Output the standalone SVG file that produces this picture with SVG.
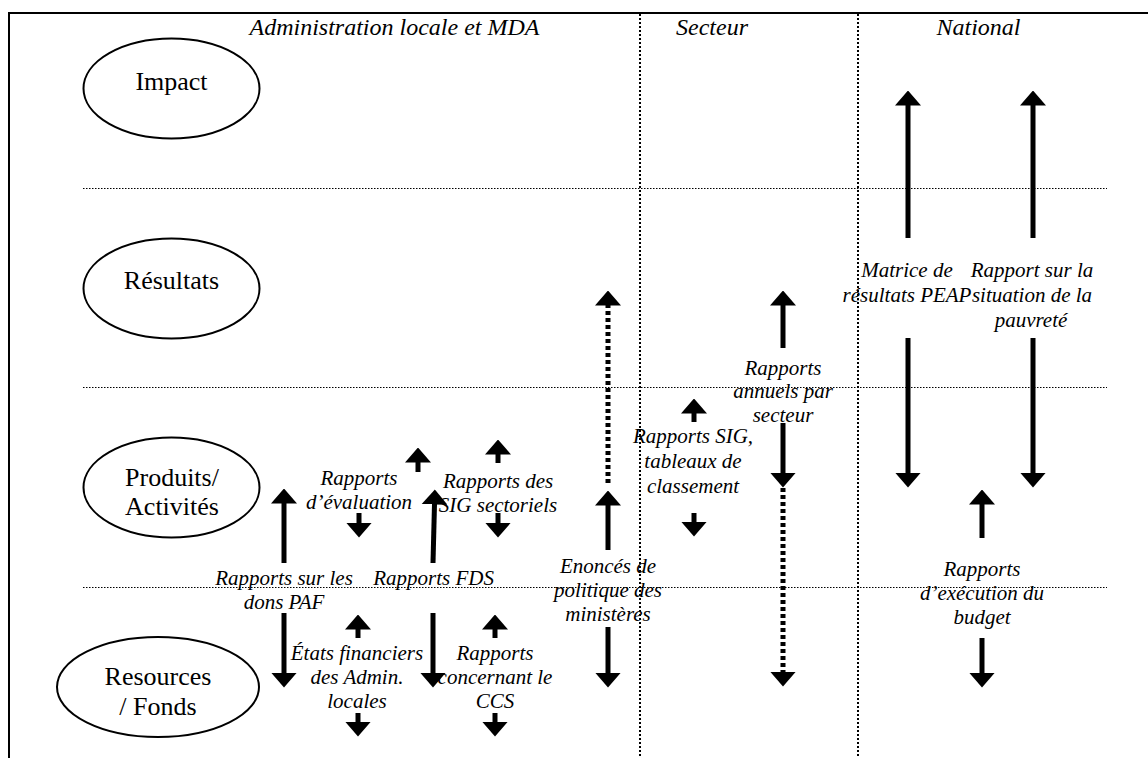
<svg xmlns="http://www.w3.org/2000/svg" width="1148" height="758" viewBox="0 0 1148 758">
<defs>
<style>
.frame{stroke:#000;stroke-width:2;fill:none}
.grid{stroke:#000;stroke-width:1.2;stroke-dasharray:1.5 1.5;fill:none}
.vgrid{stroke:#000;stroke-width:2;stroke-dasharray:2 2;fill:none}
.ell{fill:#fff;stroke:#000;stroke-width:2}
.lvl{font-family:"Liberation Serif","Times New Roman",serif;font-size:26px;fill:#000;text-anchor:middle}
.hdr{font-family:"Liberation Serif","Times New Roman",serif;font-size:24px;font-style:italic;fill:#000;text-anchor:middle}
.lbl{font-family:"Liberation Serif","Times New Roman",serif;font-size:21px;font-style:italic;fill:#000;text-anchor:middle}
.arr{stroke:#000;stroke-width:5;fill:none;marker-end:url(#head)}
.dot{stroke-dasharray:4 3}
</style>
<marker id="head" viewBox="0 -13 15 26" markerWidth="15" markerHeight="26" refX="0.5" refY="0" orient="auto" markerUnits="userSpaceOnUse">
<path d="M0,-13 L15,0 L0,13 Z" fill="#000"/>
</marker>
</defs>
<rect width="1148" height="758" fill="#fff"/>
<g id="frame">
<line class="frame" x1="8" y1="13" x2="1148" y2="13"/>
<line class="frame" x1="9" y1="12" x2="9" y2="758"/>
</g>
<g id="gridlines">
<line class="vgrid" x1="640" y1="14" x2="640" y2="758"/>
<line class="vgrid" x1="858" y1="14" x2="858" y2="758"/>
<line class="grid" x1="83" y1="188.5" x2="1107" y2="188.5"/>
<line class="grid" x1="83" y1="387.5" x2="1107" y2="387.5"/>
<line class="grid" x1="83" y1="587.5" x2="1107" y2="587.5"/>
</g>
<g id="headers">
<text class="hdr" x="394.5" y="35">Administration locale et MDA</text>
<text class="hdr" x="712" y="35">Secteur</text>
<text class="hdr" x="978.5" y="35">National</text>
</g>
<g id="impact"><ellipse class="ell" cx="171.5" cy="88.5" rx="88" ry="50"/><text class="lvl" x="171.5" y="90">Impact</text></g>
<g id="resultats"><ellipse class="ell" cx="171.5" cy="288.5" rx="88" ry="50"/><text class="lvl" x="171.5" y="289">Résultats</text></g>
<g id="produits"><ellipse class="ell" cx="171.5" cy="487.5" rx="88" ry="50"/><text class="lvl" x="172" y="486">Produits/</text><text class="lvl" x="172" y="515">Activités</text></g>
<g id="ressources"><ellipse class="ell" cx="158" cy="687" rx="101" ry="50"/><text class="lvl" x="158" y="685">Resources</text><text class="lvl" x="158" y="715">/ Fonds</text></g>
<g id="connectors">
<line class="arr" x1="908" y1="238" x2="908" y2="105"/>
<line class="arr" x1="1033" y1="238" x2="1033" y2="105"/>
<line class="arr" x1="908" y1="338" x2="908" y2="473"/>
<line class="arr" x1="1033" y1="338" x2="1033" y2="473"/>
<line class="arr" x1="982" y1="538" x2="982" y2="504"/>
<line class="arr" x1="982" y1="638" x2="982" y2="673"/>
<line class="arr" x1="783" y1="348" x2="783" y2="305"/>
<line class="arr" x1="783" y1="423" x2="783" y2="473"/>
<line class="arr dot" x1="783" y1="488" x2="783" y2="672"/>
<line class="arr" x1="694" y1="422" x2="694" y2="413"/>
<line class="arr" x1="694" y1="513" x2="694" y2="522"/>
<line class="arr dot" x1="608" y1="483" x2="608" y2="305"/>
<line class="arr" x1="608" y1="550" x2="608" y2="505"/>
<line class="arr" x1="608" y1="627" x2="608" y2="673"/>
<line class="arr" x1="284" y1="563" x2="284" y2="503"/>
<line class="arr" x1="284" y1="613" x2="284" y2="673"/>
<line class="arr" x1="418" y1="472" x2="418" y2="462"/>
<line class="arr" x1="359" y1="513" x2="359" y2="523"/>
<line class="arr" x1="433" y1="563" x2="434.5" y2="504"/>
<line class="arr" x1="433" y1="613" x2="433" y2="673"/>
<line class="arr" x1="498" y1="463" x2="498" y2="454"/>
<line class="arr" x1="498" y1="513" x2="498" y2="523"/>
<line class="arr" x1="358" y1="638" x2="358" y2="629"/>
<line class="arr" x1="358" y1="713" x2="358" y2="722"/>
<line class="arr" x1="495" y1="638" x2="495" y2="629"/>
<line class="arr" x1="495" y1="713" x2="495" y2="722"/>
</g>
<g id="labels">
<g id="lbl-matrice"><text class="lbl" x="907" y="277">Matrice de</text><text class="lbl" x="907" y="302">résultats PEAP</text></g>
<g id="lbl-pauvrete"><text class="lbl" x="1032" y="277">Rapport sur la</text><text class="lbl" x="1032" y="302">situation de la</text><text class="lbl" x="1031" y="327">pauvreté</text></g>
<g id="lbl-budget"><text class="lbl" x="982" y="576">Rapports</text><text class="lbl" x="982" y="600">d’exécution du</text><text class="lbl" x="982" y="624">budget</text></g>
<g id="lbl-annuels"><text class="lbl" x="783" y="375">Rapports</text><text class="lbl" x="783" y="398">annuels par</text><text class="lbl" x="783" y="422">secteur</text></g>
<g id="lbl-sig"><text class="lbl" x="693" y="443">Rapports SIG,</text><text class="lbl" x="693" y="468">tableaux de</text><text class="lbl" x="693" y="493">classement</text></g>
<g id="lbl-enonces"><text class="lbl" x="608" y="573">Enoncés de</text><text class="lbl" x="608" y="597">politique des</text><text class="lbl" x="608" y="621">ministères</text></g>
<g id="lbl-paf"><text class="lbl" x="284" y="585">Rapports sur les</text><text class="lbl" x="284" y="609">dons PAF</text></g>
<g id="lbl-eval"><text class="lbl" x="359" y="485">Rapports</text><text class="lbl" x="359" y="509">d’évaluation</text></g>
<g id="lbl-fds"><text class="lbl" x="433.5" y="585">Rapports FDS</text></g>
<g id="lbl-sigsect"><text class="lbl" x="498" y="488">Rapports des</text><text class="lbl" x="498" y="512">SIG sectoriels</text></g>
<g id="lbl-etats"><text class="lbl" x="357" y="660">États financiers</text><text class="lbl" x="357" y="684">des Admin.</text><text class="lbl" x="357" y="708">locales</text></g>
<g id="lbl-ccs"><text class="lbl" x="495" y="660">Rapports</text><text class="lbl" x="495" y="684">concernant le</text><text class="lbl" x="495" y="708">CCS</text></g>
</g>
</svg>
